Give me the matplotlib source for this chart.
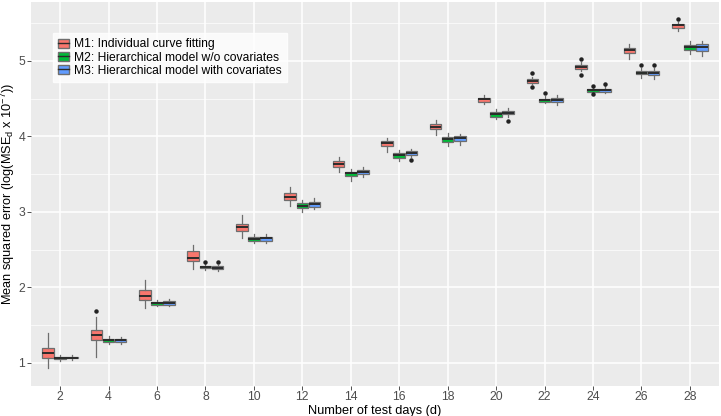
import numpy as np
import matplotlib
matplotlib.use('Agg')
import matplotlib.pyplot as plt
from matplotlib.patches import Patch
from matplotlib.lines import Line2D

plt.rcParams['font.family'] = ['Liberation Sans', 'DejaVu Sans']

days = [2, 4, 6, 8, 10, 12, 14, 16, 18, 20, 22, 24, 26, 28]
models = ['M1: Individual curve fitting',
          'M2: Hierarchical model w/o covariates',
          'M3: Hierarchical model with covariates']
colors = ['#F8766D', '#00BA38', '#619CFF']

# five-number summaries: (whislo, q1, med, q3, whishi)
m1_stats = [(0.93, 1.06, 1.13, 1.20, 1.39),
            (1.08, 1.30, 1.37, 1.44, 1.61),
            (1.73, 1.83, 1.89, 1.96, 2.10),
            (2.24, 2.35, 2.39, 2.48, 2.56),
            (2.66, 2.74, 2.80, 2.84, 2.96),
            (3.08, 3.16, 3.20, 3.25, 3.33),
            (3.53, 3.60, 3.64, 3.67, 3.73),
            (3.79, 3.87, 3.91, 3.94, 3.98),
            (4.02, 4.10, 4.13, 4.17, 4.22),
            (4.43, 4.46, 4.49, 4.51, 4.55),
            (4.69, 4.71, 4.73, 4.76, 4.79),
            (4.86, 4.89, 4.92, 4.95, 4.99),
            (5.02, 5.10, 5.14, 5.17, 5.22),
            (5.39, 5.44, 5.47, 5.49, 5.52)]
m2_stats = [(1.03, 1.05, 1.06, 1.08, 1.10),
            (1.25, 1.28, 1.30, 1.31, 1.36),
            (1.75, 1.77, 1.79, 1.81, 1.83),
            (2.23, 2.26, 2.27, 2.28, 2.31),
            (2.59, 2.62, 2.64, 2.67, 2.71),
            (3.00, 3.05, 3.08, 3.12, 3.16),
            (3.41, 3.47, 3.51, 3.53, 3.57),
            (3.68, 3.71, 3.75, 3.78, 3.82),
            (3.87, 3.93, 3.96, 3.99, 4.04),
            (4.23, 4.26, 4.29, 4.32, 4.36),
            (4.44, 4.46, 4.48, 4.50, 4.54),
            (4.58, 4.59, 4.61, 4.63, 4.65),
            (4.77, 4.82, 4.84, 4.87, 4.90),
            (5.09, 5.14, 5.18, 5.21, 5.26)]
m3_stats = [(1.04, 1.06, 1.07, 1.08, 1.10),
            (1.25, 1.28, 1.30, 1.31, 1.34),
            (1.75, 1.77, 1.79, 1.82, 1.84),
            (2.22, 2.24, 2.26, 2.28, 2.30),
            (2.59, 2.62, 2.65, 2.67, 2.71),
            (3.04, 3.07, 3.10, 3.13, 3.18),
            (3.46, 3.50, 3.53, 3.56, 3.59),
            (3.73, 3.75, 3.78, 3.80, 3.83),
            (3.88, 3.94, 3.98, 4.01, 4.03),
            (4.26, 4.29, 4.31, 4.34, 4.37),
            (4.42, 4.45, 4.48, 4.51, 4.55),
            (4.57, 4.59, 4.61, 4.63, 4.67),
            (4.76, 4.81, 4.84, 4.87, 4.91),
            (5.06, 5.13, 5.18, 5.22, 5.26)]

m1_out = [[], [1.69], [], [], [], [], [], [], [], [],
          [4.84, 4.66], [5.02, 4.81], [], [5.55]]
m2_out = [[], [], [], [2.34], [], [], [], [], [], [],
          [4.57], [4.67, 4.56], [4.95], []]
m3_out = [[], [], [], [2.33], [], [], [], [3.69], [], [4.21],
          [], [4.70], [4.95], []]


def toStats(rows, outs):
    stats = []
    for (lo, q1, med, q3, hi), fl in zip(rows, outs):
        stats.append(dict(whislo=lo, q1=q1, med=med, q3=q3, whishi=hi, fliers=fl))
    return stats


fig = plt.figure(figsize=(7.21, 4.16), dpi=100)
ax = fig.add_axes([31 / 721, 1 - 385.5 / 416, 688 / 721, 383.5 / 416])
ax.set_facecolor('#EBEBEB')

# grid
for y in np.arange(1.5, 5.6, 1.0):
    ax.axhline(y, color='white', lw=0.5, zorder=0)
for y in range(1, 6):
    ax.axhline(y, color='white', lw=1.1, zorder=0)
for i in range(len(days)):
    ax.axvline(i, color='white', lw=1.1, zorder=0)

base = np.arange(len(days))
offsets = [-0.25, 0.0, 0.25]
allStats = [toStats(m1_stats, m1_out), toStats(m2_stats, m2_out), toStats(m3_stats, m3_out)]

for stats, off, c in zip(allStats, offsets, colors):
    ax.bxp(stats, positions=base + off, widths=0.24, patch_artist=True,
           showcaps=False, manage_ticks=False,
           boxprops=dict(facecolor=c, edgecolor='#6E6E6E', linewidth=0.9),
           medianprops=dict(color='#2B2B2B', linewidth=1.4),
           whiskerprops=dict(color='#6E6E6E', linewidth=0.9),
           flierprops=dict(marker='o', markersize=2.2, markerfacecolor='#222222',
                           markeredgecolor='#222222'))

ax.set_xlim(-0.6, len(days) - 0.4)
ax.set_ylim(0.70, 5.78)
ax.set_xticks(base)
ax.set_xticklabels([str(d) for d in days])
ax.set_yticks([1, 2, 3, 4, 5])
for s in ax.spines.values():
    s.set_visible(False)
ax.tick_params(colors='#333333', labelcolor='#4D4D4D', labelsize=8.8, length=2.7, width=0.6,
               pad=1.5)

ax.set_xlabel('Number of test days (d)', fontsize=9.2, labelpad=1)
ax.set_ylabel(r'Mean squared error (log(MSE$_\mathregular{d}$ x 10$^\mathregular{-7}$))',
              fontsize=9.2, labelpad=1)

handles = [(Patch(facecolor=c, edgecolor='#6E6E6E'), Line2D([], [], color='#2B2B2B', lw=1.0))
           for c in colors]
leg = fig.legend(handles, models, loc='upper left', bbox_to_anchor=(53 / 721, 1 - 33 / 416),
                 frameon=True, fontsize=8.7, handlelength=0.9, handleheight=0.8,
                 handletextpad=0.35, labelspacing=0.1, borderpad=0.45, borderaxespad=0)
leg.get_frame().set_facecolor('white')
leg.get_frame().set_edgecolor('white')
leg.get_frame().set_boxstyle('square', pad=0)

fig.savefig('out.png', dpi=100)
